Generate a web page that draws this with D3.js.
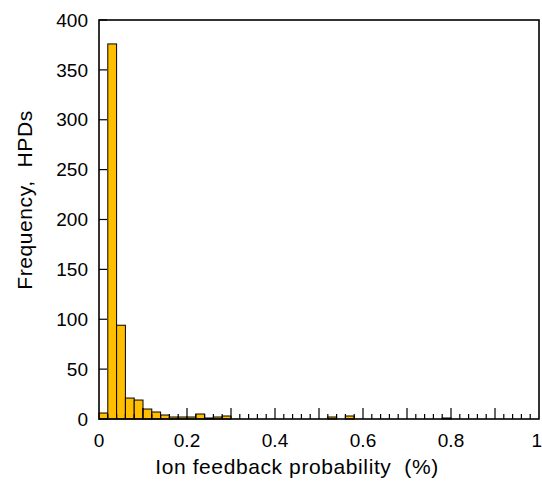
<!DOCTYPE html>
<html>
<head>
<meta charset="utf-8">
<script src="https://cdn.jsdelivr.net/npm/d3@7"></script>
<style>
  body { margin: 0; background: #fff; }
  text { font-family: "Liberation Sans", Arial, Helvetica, sans-serif; fill: #000; }
</style>
</head>
<body>
<div id="chart"></div>
<script>
// histogram counts, bins of width 0.02 from 0 to 1
let binWidth = 0.02;
let counts = [6, 376, 94, 21, 19, 10, 7, 4, 2, 2,
              2, 5, 1, 2, 3, 0, 0, 0, 0, 0,
              0, 0, 0, 0, 0, 0, 2, 0, 3, 0,
              0, 0, 0, 0, 0, 0, 0, 0, 0, 1,
              0, 0, 0, 0, 0, 0, 0, 0, 0, 0];
let xLabels = [0, 0.2, 0.4, 0.6, 0.8, 1];
let yLabels = [0, 50, 100, 150, 200, 250, 300, 350, 400];

let width = 542;
let height = 490;
let margin = {top: 20, right: 3, bottom: 71, left: 99};

let svg = d3.select("#chart").append("svg")
  .attr("width", width)
  .attr("height", height);

let x = d3.scaleLinear().domain([0, 1]).range([margin.left, width - margin.right]);
let y = d3.scaleLinear().domain([0, 400]).range([height - margin.bottom, margin.top]);

let bins = counts.map((c, i) => ({x0: i * binWidth, x1: (i + 1) * binWidth, n: c}));

// bars
svg.append("g")
  .selectAll("rect")
  .data(bins.filter(d => d.n > 0))
  .enter()
  .append("rect")
  .attr("x", d => x(d.x0))
  .attr("y", d => y(d.n))
  .attr("width", d => x(d.x1) - x(d.x0))
  .attr("height", d => y(0) - y(d.n))
  .attr("fill", "#ffbf00")
  .attr("stroke", "#000")
  .attr("stroke-width", 1);

// inward ticks on the bottom: minor every 0.02, major every 0.1
let minor = d3.range(1, 50).filter(i => i % 5 != 0).map(i => i * binWidth);
let major = d3.range(1, 10).map(i => i / 10);

let xAxis = svg.append("g")
  .attr("transform", "translate(0," + y(0) + ")");
xAxis.selectAll(".minor").data(minor).enter().append("line")
  .attr("x1", d => x(d)).attr("x2", d => x(d))
  .attr("y1", 0).attr("y2", -5)
  .attr("stroke", "#000").attr("stroke-width", 1.2);
xAxis.selectAll(".major").data(major).enter().append("line")
  .attr("x1", d => x(d)).attr("x2", d => x(d))
  .attr("y1", 0).attr("y2", -11)
  .attr("stroke", "#000").attr("stroke-width", 1.2);
// last label sits on the right edge, keep it inside the picture
xAxis.selectAll("text").data(xLabels).enter().append("text")
  .attr("x", d => d == 1 ? x(d) + 3 : x(d))
  .attr("y", 28)
  .attr("text-anchor", d => d == 1 ? "end" : "middle")
  .style("font-size", "19px")
  .text(d => d);

// left axis ticks, pointing in
let yAxis = svg.append("g")
  .attr("transform", "translate(" + x(0) + ",0)");
yAxis.selectAll("line").data(yLabels).enter().append("line")
  .attr("x1", 0).attr("x2", 8)
  .attr("y1", d => y(d)).attr("y2", d => y(d))
  .attr("stroke", "#000").attr("stroke-width", 1.2);
yAxis.selectAll("text").data(yLabels).enter().append("text")
  .attr("x", -11)
  .attr("y", d => y(d))
  .attr("dy", "0.35em")
  .attr("text-anchor", "end")
  .style("font-size", "19px")
  .text(d => d);

// frame
svg.append("rect")
  .attr("x", x(0))
  .attr("y", y(400))
  .attr("width", x(1) - x(0))
  .attr("height", y(0) - y(400))
  .attr("fill", "none")
  .attr("stroke", "#000")
  .attr("stroke-width", 1.6);

// axis titles
svg.append("text")
  .attr("x", 297)
  .attr("y", 474)
  .attr("text-anchor", "middle")
  .style("font-size", "21px")
  .style("letter-spacing", "0.6px")
  .attr("xml:space", "preserve")
  .text("Ion feedback probability  (%)");

svg.append("text")
  .attr("transform", "translate(32," + 200 + ") rotate(-90)")
  .attr("text-anchor", "middle")
  .style("font-size", "21px")
  .style("letter-spacing", "0.6px")
  .attr("xml:space", "preserve")
  .text("Frequency,  HPDs");
</script>
</body>
</html>
